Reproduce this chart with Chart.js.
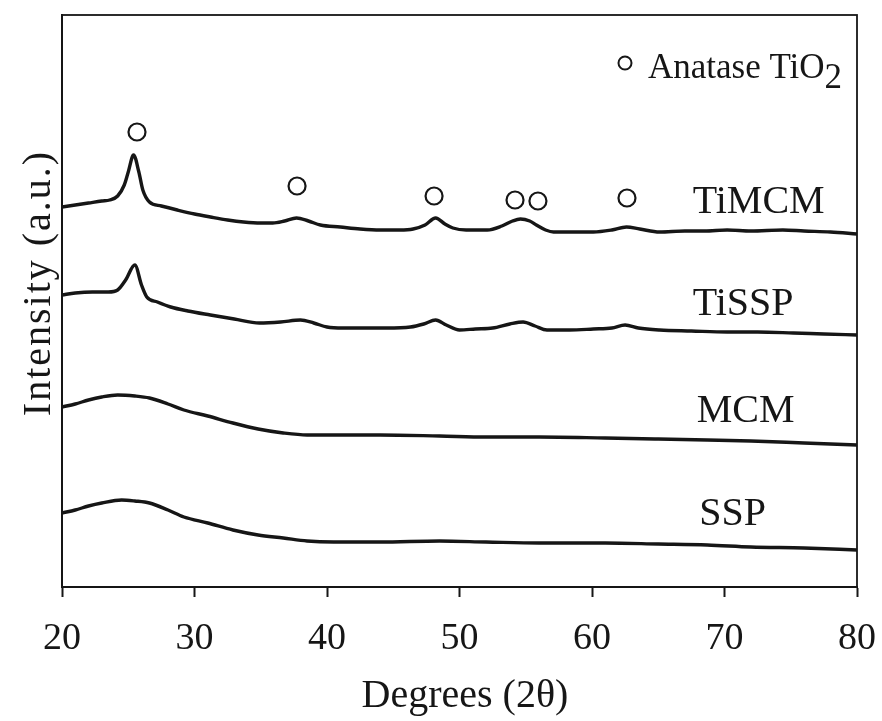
<!DOCTYPE html>
<html>
<head>
<meta charset="utf-8">
<script src="https://cdn.jsdelivr.net/npm/chart.js@4/dist/chart.umd.min.js"></script>
<style>
  body { margin: 0; background: #fff; }
  #wrap { width: 882px; height: 721px; }
</style>
</head>
<body>
<div id="wrap"><canvas id="xrd"></canvas></div>
<script>
// 2-theta positions and offset intensities (a.u.)
const timcmX = [20, 21, 22, 23, 23.6, 24.2, 24.7, 25.0, 25.4, 25.8, 26.1, 26.6, 27.5, 28.7, 30, 31.2, 32.5, 33.7, 35, 35.9, 36.8, 37.7, 38.6, 39.5, 41, 42.5, 44, 45.5, 46.5, 47.4, 48.2, 48.9, 49.5, 50.5, 52.1, 53.2, 54.0, 54.6, 55.3, 55.8, 56.5, 57.1, 58.5, 60.1, 61.5, 62.6, 63.6, 65.1, 67, 68.5, 70.2, 72, 74.4, 76, 78, 80];
const timcmY = [380, 382, 384, 386, 387, 391, 402, 415, 432, 415, 397, 385, 381, 377, 373, 370, 367, 365, 364, 364, 366, 369, 366, 362, 360, 358, 357, 357, 358, 362, 369, 363, 359, 357, 357, 361, 366, 368, 366, 362, 357, 355, 355, 355, 357, 360, 358, 355, 356, 356, 357, 356, 357, 356, 355, 353];

const tisspX = [20, 21, 22.3, 23.5, 24.2, 24.8, 25.5, 26.0, 26.4, 27.2, 28.2, 29.5, 31.2, 33, 34.9, 36.5, 38, 39, 40, 41.2, 42.5, 44.5, 46.3, 47.3, 48.2, 49, 50, 51.2, 52.5, 53.8, 54.8, 55.7, 56.6, 58.3, 60.1, 61.5, 62.5, 63.5, 65.1, 67.5, 70.2, 72.5, 75.2, 77.5, 80];
const tisspY = [292, 294, 295, 295, 297, 307, 322, 302, 290, 285, 280, 276, 272, 268, 264, 265, 267, 264, 260, 259, 259, 259, 260, 263, 267, 262, 257, 258, 259, 263, 265, 261, 257, 257, 258, 259, 262, 259, 257, 256, 255, 255, 254, 253, 252];

const mcmX = [20, 21, 22, 23, 24.2, 25.5, 26.6, 28, 29.2, 31, 32.9, 34.8, 36.7, 38.5, 40.5, 44, 48.5, 52, 56, 61, 65, 68.7, 72, 76, 80];
const mcmY = [180, 183, 187, 190, 192, 191, 189, 183, 177, 171, 164, 158, 154, 152, 152, 152, 151, 150, 150, 149, 148, 147, 146, 144, 142];

const sspX = [20, 21, 22, 23, 24.5, 25.5, 26.6, 28, 29.2, 31, 32.9, 34.8, 36.7, 38.5, 40.5, 44, 48.5, 52, 56, 61, 65, 68.7, 72, 76, 80];
const sspY = [74, 77, 81, 84, 87, 86, 84, 77, 70, 64, 57, 52, 49, 46, 45, 45, 46, 45, 44, 44, 43, 42, 40, 39, 37];

// anatase TiO2 reflection markers
const anataseX = [25.66, 37.74, 48.08, 54.19, 55.92, 62.64];
const anataseY = [455, 401, 391, 387, 386, 389];

// curve labels
const sampleNames = ['TiMCM', 'TiSSP', 'MCM', 'SSP'];
const labelX = [67.6, 67.6, 67.9, 68.1];
const labelY = [374, 272, 165, 62];

const xTicks = [20, 30, 40, 50, 60, 70, 80];

const INK = '#161616';
const SERIF = "'Liberation Serif', 'Times New Roman', serif";

function pairs(xs, ys) {
  return xs.map((x, i) => ({ x: x, y: ys[i] }));
}

function trace(label, xs, ys) {
  return {
    label: label,
    data: pairs(xs, ys),
    borderColor: INK,
    borderWidth: 3.4,
    pointRadius: 0,
    cubicInterpolationMode: 'monotone',
    fill: false
  };
}

const annotate = {
  id: 'annotate',
  afterDraw(chart) {
    const c = chart.ctx;
    const a = chart.chartArea;
    const xs = chart.scales.x;
    const ys = chart.scales.y;
    c.save();

    // frame
    c.strokeStyle = INK;
    c.lineWidth = 1.8;
    c.strokeRect(a.left, a.top, a.right - a.left, a.bottom - a.top);

    c.fillStyle = INK;
    c.textBaseline = 'alphabetic';

    // sample names
    c.font = '40px ' + SERIF;
    c.textAlign = 'left';
    sampleNames.forEach((n, i) => {
      c.fillText(n, xs.getPixelForValue(labelX[i]), ys.getPixelForValue(labelY[i]));
    });

    // legend: o Anatase TiO2
    c.beginPath();
    c.arc(625, 63, 6.5, 0, Math.PI * 2);
    c.lineWidth = 2;
    c.stroke();
    c.font = '35px ' + SERIF;
    c.fillText('Anatase TiO', 648, 78);
    const w = c.measureText('Anatase TiO').width;
    c.fillText('2', 648 + w, 88);

    // axis titles
    c.font = '40px ' + SERIF;
    c.textAlign = 'center';
    c.fillText('Degrees (2θ)', 465, 707);

    c.save();
    c.translate(50, 283);
    c.rotate(-Math.PI / 2);
    c.letterSpacing = '2px';
    c.fillText('Intensity (a.u.)', 0, 0);
    c.restore();

    c.restore();
  }
};

new Chart(document.getElementById('xrd'), {
  type: 'line',
  data: {
    datasets: [
      trace('TiMCM', timcmX, timcmY),
      trace('TiSSP', tisspX, tisspY),
      trace('MCM', mcmX, mcmY),
      trace('SSP', sspX, sspY),
      {
        label: 'Anatase TiO2',
        type: 'scatter',
        data: pairs(anataseX, anataseY),
        pointStyle: 'circle',
        pointRadius: 8.5,
        pointBorderWidth: 2.2,
        pointBorderColor: INK,
        pointBackgroundColor: '#fff',
        showLine: false
      }
    ]
  },
  plugins: [annotate],
  options: {
    responsive: true,
    maintainAspectRatio: false,
    animation: false,
    layout: { padding: { top: 15, right: 25, left: 0, bottom: 0 } },
    plugins: {
      legend: { display: false },
      tooltip: { enabled: false }
    },
    scales: {
      x: {
        type: 'linear',
        min: 20,
        max: 80,
        afterBuildTicks: (s) => { s.ticks = xTicks.map(v => ({ value: v })); },
        afterFit: (s) => { s.height = 134; s.paddingLeft = 0; s.paddingRight = 0; },
        border: { display: true, color: INK, width: 2 },
        grid: { drawOnChartArea: false, drawTicks: true, tickLength: 10, color: INK, tickWidth: 2 },
        ticks: {
          color: INK,
          padding: 19,
          maxRotation: 0,
          font: { family: SERIF, size: 38 }
        }
      },
      y: {
        type: 'linear',
        min: 0,
        max: 572,
        afterFit: (s) => { s.width = 62; s.paddingTop = 0; s.paddingBottom = 0; },
        border: { display: true, color: INK, width: 2 },
        grid: { display: false, drawTicks: false },
        ticks: { display: false }
      }
    }
  }
});
</script>
</body>
</html>
